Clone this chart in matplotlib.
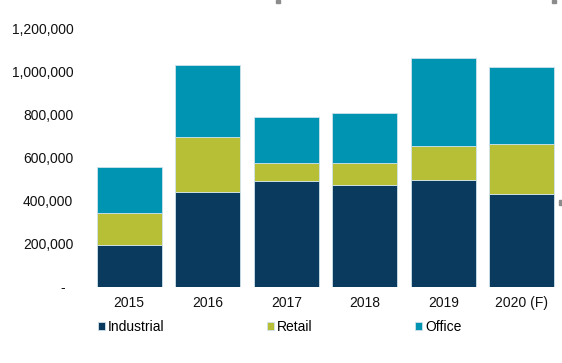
import matplotlib.pyplot as plt
from matplotlib.patches import Rectangle
from matplotlib.ticker import FuncFormatter

years = ["2015", "2016", "2017", "2018", "2019", "2020 (F)"]
industrial = [193000, 441000, 492000, 470000, 495000, 430000]
retail = [150000, 252000, 81000, 103000, 159000, 234000]
office = [214000, 336000, 214000, 233000, 409000, 354000]

COLORS = {"Industrial": "#0b3a5f", "Retail": "#b6bf35", "Office": "#0094b3"}

plt.rcParams["font.family"] = ["Liberation Sans", "DejaVu Sans"]
plt.rcParams["font.size"] = 10

fig = plt.figure(figsize=(5.62, 3.63), dpi=100)
ax = fig.add_axes([90 / 562, 1 - 286.7 / 363, 471 / 562, (286.7 - 28.3) / 363])

x = range(len(years))
width = 0.83
bottom2 = [a + b for a, b in zip(industrial, retail)]
edge = dict(edgecolor="#cfe2ec", linewidth=0.6)
ax.bar(x, industrial, width, color=COLORS["Industrial"], label="Industrial", **edge)
ax.bar(x, retail, width, bottom=industrial, color=COLORS["Retail"], label="Retail", **edge)
ax.bar(x, office, width, bottom=bottom2, color=COLORS["Office"], label="Office", **edge)

ax.set_xlim(-0.5, len(years) - 0.5)
ax.set_ylim(0, 1200000)
ax.set_yticks(range(0, 1200001, 200000))
ax.yaxis.set_major_formatter(
    FuncFormatter(lambda v, p: "-  " if v == 0 else f"{int(v):,}"))
ax.set_xticks(list(x))
ax.set_xticklabels(years)
ax.tick_params(length=0, labelsize=10, colors="#111111")
ax.tick_params(axis="x", pad=6.5)
ax.tick_params(axis="y", pad=12)
for s in ax.spines.values():
    s.set_visible(False)

fig.legend(loc="center left", bbox_to_anchor=(98 / 562, 1 - 327 / 363),
           ncol=3, frameon=False, handlelength=0.5, handleheight=0.5,
           handletextpad=0.2, columnspacing=7.4, borderaxespad=0,
           borderpad=0, fontsize=10)

# small grey frame handles visible in the reference
for (px, py, w, h) in [(276, 0, 4, 2.5), (552, 0, 4, 2.5), (559, 200, 3, 5)]:
    fig.patches.append(Rectangle((px / 562, 1 - (py + h) / 363), w / 562, h / 363,
                                 transform=fig.transFigure, color="#8c8c8c"))

fig.savefig("out.png", dpi=100)
